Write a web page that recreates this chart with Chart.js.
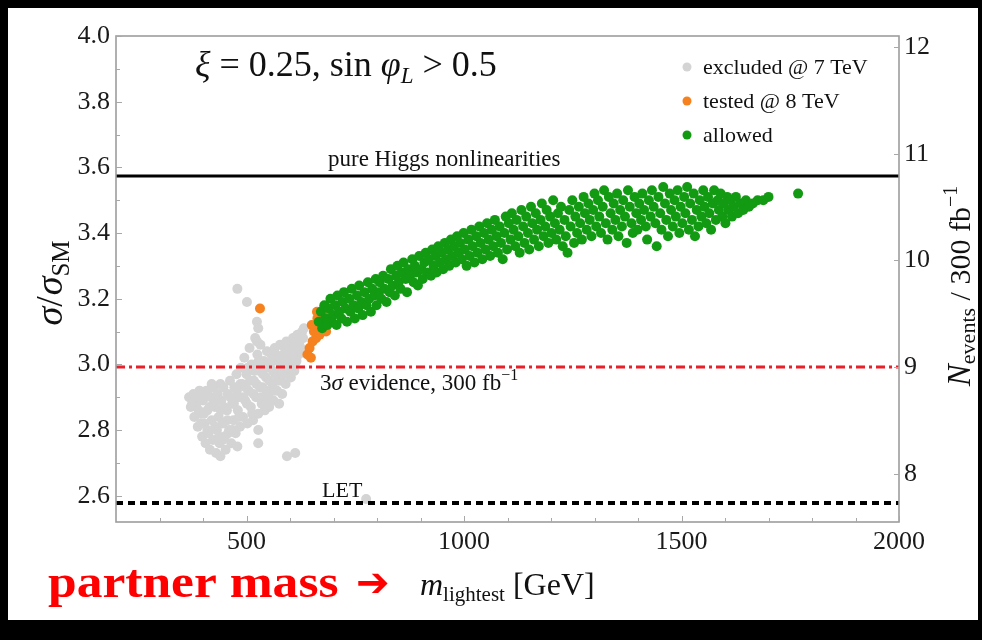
<!DOCTYPE html>
<html>
<head>
<meta charset="UTF-8">
<title>sigma/sigma_SM vs m_lightest</title>
<style>
  html, body { margin: 0; padding: 0; background: #000; }
  #chart { display: block; }
</style>
</head>
<body>
<canvas id="chart" width="982" height="640"></canvas>
<script src="https://cdn.jsdelivr.net/npm/chart.js"></script>
<script>
// axes
var xRange = [200, 2000];
var yRange = [2.52, 4.0];
var nRange = [7.548, 12.103];
var xTicks = [500, 1000, 1500, 2000];
var xMinorTicks = [300, 400, 600, 700, 800, 900, 1100, 1200, 1300, 1400, 1600, 1700, 1800, 1900];
var yTicks = [2.6, 2.8, 3.0, 3.2, 3.4, 3.6, 3.8, 4.0];
var yMinorTicks = [2.7, 2.9, 3.1, 3.3, 3.5, 3.7, 3.9];
var nTicks = [8, 9, 10, 11, 12];

// reference levels (sigma/sigma_SM)
var higgsLevel = 3.574;
var evidenceLevel = 2.992;
var letLevel = 2.578;

// scan points [m_lightest, sigma/sigma_SM]
var excluded = [
  [368,2.90],[372,2.87],[378,2.91],[380,2.84],[385,2.88],[388,2.81],[392,2.92],[395,2.85],[398,2.78],[400,2.89],
  [403,2.82],[406,2.76],[408,2.92],[410,2.86],[413,2.79],[416,2.74],[418,2.90],[420,2.83],[423,2.77],[425,2.93],
  [427,2.87],[430,2.73],[432,2.80],[434,2.91],[436,2.84],[438,2.76],[440,2.72],[442,2.89],[445,2.82],[447,2.93],
  [450,2.78],[452,2.74],[455,2.86],[457,2.91],[460,2.80],[462,2.95],[465,2.76],[467,2.88],[470,2.83],[472,2.93],
  [475,2.79],[477,2.97],[480,2.86],[482,2.90],[485,2.81],[487,2.99],[490,2.94],[492,2.84],[495,3.02],[497,2.89],
  [500,2.97],[502,2.82],[505,2.92],[507,3.05],[510,2.87],[512,3.00],[515,2.83],[517,2.95],[520,3.08],[522,2.90],
  [525,3.03],[527,2.85],[530,2.98],[532,3.06],[535,2.88],[537,2.93],[540,3.01],[542,2.86],[545,2.96],[547,3.04],
  [550,2.91],[552,2.87],[555,2.99],[557,3.03],[560,2.94],[562,2.89],[565,3.05],[567,2.97],[570,2.92],[572,3.01],
  [575,2.88],[577,3.06],[580,2.95],[582,2.91],[585,3.03],[587,2.99],[590,2.94],[592,3.07],[595,2.97],[597,3.02],
  [600,3.05],[602,2.96],[605,3.00],[607,3.08],[610,2.98],[612,3.04],[615,3.01],[617,3.09],[620,3.03],[622,3.07],
  [625,3.05],[628,3.10],[630,3.08],[632,3.11],
  [383,2.89],[396,2.90],[411,2.91],[426,2.89],[441,2.86],[456,2.83],[471,2.88],[486,2.94],[501,2.88],[516,2.91],
  [531,2.93],[546,2.92],[561,2.98],[576,2.98],[591,3.00],[606,3.03],
  [375,2.88],[390,2.86],[402,2.85],[415,2.87],[428,2.81],[437,2.78],[448,2.87],[458,2.79],[463,2.90],[468,2.80],
  [478,2.92],[483,2.84],[493,2.90],[498,2.93],[503,2.99],[508,2.95],[513,2.85],[518,2.98],[523,2.94],[528,3.01],
  [533,2.90],[538,2.97],[543,2.99],[548,2.89],[553,2.95],[558,3.01],[563,2.92],[568,3.03],[573,2.95],[578,3.02],
  [583,2.97],[588,3.05],[598,2.99],[603,3.07],[613,3.06],[618,3.05],[623,3.09],[410,2.80],[395,2.82],[445,2.77],
  [479,3.23],[501,3.19],[524,3.13],[527,3.11],[524,3.07],[479,2.75],[527,2.76],[527,2.80],[593,2.72],[612,2.73],
  [775,2.59],[440,2.94],[420,2.94]
];
var tested = [
  [640,3.03],[645,3.05],[648,3.02],[652,3.07],[655,3.10],[658,3.12],[660,3.08],[663,3.14],[665,3.11],[668,3.09],
  [670,3.13],[672,3.15],[675,3.11],[678,3.17],[680,3.13],[683,3.10],[685,3.15],[662,3.16],[650,3.12],[531,3.17]
];
var allowed = [
  [666,3.13],[671,3.16],[674,3.11],[679,3.18],[682,3.14],[686,3.12],[689,3.17],[693,3.20],[696,3.13],[699,3.15],
  [704,3.18],[707,3.12],[709,3.21],[713,3.16],[718,3.14],[721,3.19],[724,3.22],[728,3.17],[731,3.13],[736,3.20],
  [739,3.16],[742,3.23],[746,3.18],[749,3.14],[754,3.21],[757,3.17],[759,3.24],[764,3.19],[767,3.15],[771,3.22],
  [776,3.18],[779,3.25],[782,3.20],[786,3.16],[789,3.23],[794,3.21],[797,3.26],[799,3.18],
  [804,3.22],[806,3.25],[810,3.20],[814,3.27],[817,3.23],[822,3.19],[826,3.26],[829,3.22],[832,3.29],[836,3.24],
  [841,3.21],[844,3.27],[847,3.30],[850,3.25],[854,3.23],[857,3.28],[861,3.31],[866,3.26],[869,3.22],[872,3.29],
  [876,3.27],[881,3.32],[884,3.25],[887,3.30],[891,3.28],[894,3.24],[897,3.33],[902,3.29],[905,3.26],[909,3.31],
  [912,3.34],[916,3.28],[919,3.32],[924,3.27],[927,3.35],[930,3.30],[934,3.33],[937,3.28],[941,3.36],[945,3.31],
  [948,3.34],
  [952,3.29],[956,3.37],[959,3.32],[963,3.35],[966,3.30],[970,3.38],[973,3.33],[977,3.36],[981,3.31],[984,3.39],
  [988,3.34],[991,3.37],[995,3.32],[999,3.40],[1002,3.35],[1006,3.30],[1010,3.38],[1013,3.33],[1017,3.41],[1020,3.36],
  [1024,3.31],[1028,3.39],[1031,3.34],[1035,3.42],[1038,3.37],[1042,3.32],[1046,3.40],[1049,3.35],[1053,3.43],[1057,3.38],
  [1060,3.33],[1064,3.41],[1067,3.36],[1071,3.44],[1075,3.39],[1078,3.34],[1082,3.42],[1085,3.37],[1089,3.32],[1093,3.40],
  [1096,3.45],[1099,3.35],
  [1103,3.43],[1107,3.38],[1110,3.46],[1114,3.41],[1118,3.36],[1121,3.44],[1125,3.39],[1128,3.34],[1132,3.47],[1136,3.42],
  [1139,3.37],[1143,3.45],[1147,3.40],[1150,3.35],[1154,3.48],[1157,3.43],[1161,3.38],[1165,3.46],[1168,3.41],[1172,3.36],
  [1176,3.44],[1179,3.49],[1183,3.39],[1187,3.42],[1190,3.47],[1194,3.37],[1198,3.45],[1201,3.40],[1205,3.50],[1209,3.43],
  [1212,3.38],[1216,3.46],[1220,3.41],[1223,3.48],[1227,3.36],[1231,3.44],[1234,3.39],[1238,3.34],[1242,3.47],[1245,3.42],
  [1249,3.50],[1253,3.37],[1256,3.45],[1260,3.40],[1264,3.48],[1267,3.43],[1271,3.38],[1275,3.51],[1278,3.46],[1282,3.41],
  [1286,3.49],[1289,3.44],[1293,3.39],[1297,3.47],
  [1300,3.52],[1304,3.42],[1308,3.50],[1311,3.45],[1315,3.40],[1319,3.48],[1322,3.53],[1326,3.43],[1330,3.38],[1333,3.51],
  [1337,3.46],[1341,3.41],[1344,3.49],[1348,3.44],[1352,3.52],[1355,3.39],[1359,3.47],[1363,3.42],[1366,3.50],[1370,3.45],
  [1374,3.37],[1377,3.53],[1381,3.48],[1385,3.43],[1388,3.40],[1392,3.51],[1396,3.46],[1399,3.41],[1403,3.49],[1407,3.44],
  [1410,3.52],[1414,3.47],[1418,3.42],[1421,3.38],[1425,3.50],[1429,3.45],[1432,3.53],[1436,3.48],[1440,3.43],[1443,3.36],
  [1447,3.51],[1451,3.46],[1454,3.41],[1458,3.54],[1462,3.49],[1465,3.44],[1469,3.39],[1473,3.52],[1476,3.47],[1480,3.42],
  [1484,3.50],[1487,3.45],[1491,3.53],[1495,3.40],[1498,3.48],
  [1502,3.43],[1506,3.51],[1509,3.46],[1513,3.54],[1517,3.41],[1520,3.49],[1524,3.44],[1528,3.52],[1531,3.39],[1535,3.47],
  [1539,3.42],[1542,3.50],[1546,3.45],[1550,3.53],[1553,3.48],[1557,3.43],[1561,3.51],[1564,3.46],[1568,3.41],[1572,3.49],
  [1575,3.53],[1579,3.44],[1583,3.50],[1586,3.47],[1590,3.52],[1594,3.45],[1597,3.49],[1601,3.43],[1605,3.51],[1608,3.47],
  [1612,3.50],[1616,3.45],[1620,3.48],[1625,3.51],[1630,3.46],[1636,3.49],[1642,3.47],[1648,3.50],[1655,3.48],[1664,3.49],
  [1675,3.50],[1688,3.50],[1700,3.51],[1768,3.52]
];

var SERIF = '"Liberation Serif", "Times New Roman", serif';

function toXY(arr) {
  return arr.map(function (p) { return { x: p[0], y: p[1] }; });
}
function level(v) {
  return [{ x: xRange[0], y: v }, { x: xRange[1], y: v }];
}
function fixTicks(values) {
  return function (scale) { scale.ticks = values.map(function (v) { return { value: v }; }); };
}

// draws a run of text pieces with different fonts / vertical shifts
function richText(ctx, x, y, segs, align) {
  var w = 0;
  segs.forEach(function (s) { ctx.font = s.f + ' ' + (s.fam || SERIF); s.w = ctx.measureText(s.t).width; w += s.w + (s.gap || 0); });
  var cx = align === 'center' ? x - w / 2 : x;
  ctx.textAlign = 'left';
  ctx.textBaseline = 'alphabetic';
  segs.forEach(function (s) {
    ctx.font = s.f + ' ' + (s.fam || SERIF);
    ctx.fillText(s.t, cx, y + (s.dy || 0));
    cx += s.w + (s.gap || 0);
  });
  return w;
}

var backdrop = {
  id: 'backdrop',
  beforeDraw: function (chart) {
    var ctx = chart.ctx;
    ctx.save();
    ctx.fillStyle = '#000';
    ctx.fillRect(0, 0, chart.width, chart.height);
    ctx.fillStyle = '#fff';
    ctx.fillRect(8, 8, 970, 612);
    ctx.restore();
  }
};

var frame = {
  id: 'frame',
  afterDraw: function (chart) {
    var ctx = chart.ctx, a = chart.chartArea;
    var sx = chart.scales.x, sy = chart.scales.y, sn = chart.scales.n;
    ctx.save();
    ctx.strokeStyle = '#9d9d9d';
    ctx.lineWidth = 1.6;
    ctx.strokeRect(a.left, a.top, a.right - a.left, a.bottom - a.top);

    // inward tick marks
    ctx.strokeStyle = '#a8a8a8';
    ctx.lineWidth = 1;
    ctx.beginPath();
    xTicks.concat(xMinorTicks).forEach(function (v) {
      var px = Math.round(sx.getPixelForValue(v)) + 0.5;
      ctx.moveTo(px, a.bottom); ctx.lineTo(px, a.bottom - (xTicks.indexOf(v) >= 0 ? 6 : 4));
    });
    yTicks.concat(yMinorTicks).forEach(function (v) {
      var py = Math.round(sy.getPixelForValue(v)) + 0.5;
      ctx.moveTo(a.left, py); ctx.lineTo(a.left + (yTicks.indexOf(v) >= 0 ? 6 : 4), py);
    });
    nTicks.forEach(function (v) {
      var py = Math.round(sn.getPixelForValue(v)) + 0.5;
      ctx.moveTo(a.right, py); ctx.lineTo(a.right - 5, py);
    });
    ctx.stroke();
    ctx.restore();
  }
};

var notes = {
  id: 'notes',
  afterDraw: function (chart) {
    var ctx = chart.ctx;
    var ds = chart.data.datasets;
    ctx.save();
    ctx.fillStyle = '#111';

    richText(ctx, 195, 76, [
      { t: 'ξ', f: 'italic 36px' },
      { t: ' = 0.25, sin ', f: '36px' },
      { t: 'φ', f: 'italic 36px' },
      { t: 'L', f: 'italic 23px', dy: 7 },
      { t: ' > 0.5', f: '36px' }
    ]);

    // legend
    [[3, 67], [4, 101], [5, 135]].forEach(function (r) {
      var d = ds[r[0]];
      ctx.fillStyle = d.backgroundColor;
      ctx.beginPath();
      ctx.arc(687, r[1], 4.5, 0, Math.PI * 2);
      ctx.fill();
      ctx.fillStyle = '#111';
      ctx.font = '22px ' + SERIF;
      ctx.textAlign = 'left';
      ctx.textBaseline = 'middle';
      ctx.fillText(d.label, 703, r[1] + 1);
    });

    ctx.fillStyle = '#111';
    richText(ctx, 328, 166, [{ t: 'pure Higgs nonlinearities', f: '23px' }]);
    richText(ctx, 320, 390, [
      { t: '3', f: '23px' },
      { t: 'σ', f: 'italic 23px' },
      { t: ' evidence, 300 fb', f: '23px' },
      { t: '−1', f: '16px', dy: -10 }
    ]);
    richText(ctx, 322, 497, [{ t: 'LET', f: '22px' }]);

    // axis titles
    ctx.save();
    ctx.translate(62, 283);
    ctx.rotate(-Math.PI / 2);
    richText(ctx, 0, 0, [
      { t: 'σ', f: 'italic 38px' },
      { t: '/', f: '38px', gap: 1 },
      { t: 'σ', f: 'italic 38px' },
      { t: 'SM', f: '25px', dy: 7 }
    ], 'center');
    ctx.restore();

    ctx.save();
    ctx.translate(970, 286);
    ctx.rotate(-Math.PI / 2);
    richText(ctx, 0, 0, [
      { t: 'N', f: 'italic 33px' },
      { t: 'events', f: '22px', dy: 5 },
      { t: ' / 300 fb', f: '30px' },
      { t: '−1', f: '20px', dy: -13 }
    ], 'center');
    ctx.restore();

    // bottom caption
    ctx.fillStyle = '#ff0000';
    ctx.save();
    ctx.translate(48, 597);
    ctx.scale(1.12, 1);
    richText(ctx, 0, 0, [{ t: 'partner mass', f: 'bold 46px' }]);
    ctx.restore();
    richText(ctx, 356, 596, [{ t: '➔', f: 'bold 40px', fam: '"DejaVu Sans", sans-serif' }]);
    ctx.fillStyle = '#111';
    richText(ctx, 420, 595, [
      { t: 'm', f: 'italic 32px' },
      { t: 'lightest', f: '21px', dy: 6 },
      { t: ' [GeV]', f: '32px' }
    ]);
    ctx.restore();
  }
};

var tickFont = { family: SERIF, size: 26 };

new Chart(document.getElementById('chart').getContext('2d'), {
  type: 'scatter',
  data: {
    datasets: [
      { label: 'pure Higgs nonlinearities', type: 'line', data: level(higgsLevel), borderColor: '#000', borderWidth: 3, pointRadius: 0, order: 0 },
      { label: '3σ evidence', type: 'line', data: level(evidenceLevel), borderColor: '#e8202a', borderWidth: 3, borderDash: [9, 4, 3, 4], pointRadius: 0, order: 0 },
      { label: 'LET', type: 'line', data: level(letLevel), borderColor: '#000', borderWidth: 4, borderDash: [7, 5], pointRadius: 0, order: 0 },
      { label: 'excluded @ 7 TeV', data: toXY(excluded), backgroundColor: '#d4d4d4', borderWidth: 0, pointRadius: 5, order: 3 },
      { label: 'tested @ 8 TeV', data: toXY(tested), backgroundColor: '#f5821f', borderWidth: 0, pointRadius: 5, order: 2 },
      { label: 'allowed', data: toXY(allowed), backgroundColor: '#139a13', borderWidth: 0, pointRadius: 5, order: 1 }
    ]
  },
  options: {
    responsive: false,
    animation: false,
    devicePixelRatio: 1,
    layout: { padding: { top: 36, left: 0, right: 0, bottom: 0 } },
    plugins: { legend: { display: false }, tooltip: { enabled: false } },
    scales: {
      x: {
        type: 'linear', position: 'bottom', min: xRange[0], max: xRange[1],
        afterBuildTicks: fixTicks(xTicks),
        afterFit: function (s) { s.height = 118; },
        grid: { display: false, drawTicks: false }, border: { display: false },
        ticks: { font: tickFont, color: '#1a1a1a', padding: 5, maxRotation: 0, callback: function (v) { return String(v); } }
      },
      y: {
        type: 'linear', position: 'left', min: yRange[0], max: yRange[1],
        afterBuildTicks: fixTicks(yTicks),
        afterFit: function (s) { s.width = 116; },
        grid: { display: false, drawTicks: false }, border: { display: false },
        ticks: { font: tickFont, color: '#1a1a1a', padding: 6, callback: function (v) { return v.toFixed(1); } }
      },
      n: {
        type: 'linear', position: 'right', min: nRange[0], max: nRange[1],
        afterBuildTicks: fixTicks(nTicks),
        afterFit: function (s) { s.width = 83; },
        grid: { display: false, drawTicks: false }, border: { display: false },
        ticks: { font: tickFont, color: '#1a1a1a', padding: 5, callback: function (v) { return String(v); } }
      }
    }
  },
  plugins: [backdrop, frame, notes]
});
</script>
</body>
</html>
